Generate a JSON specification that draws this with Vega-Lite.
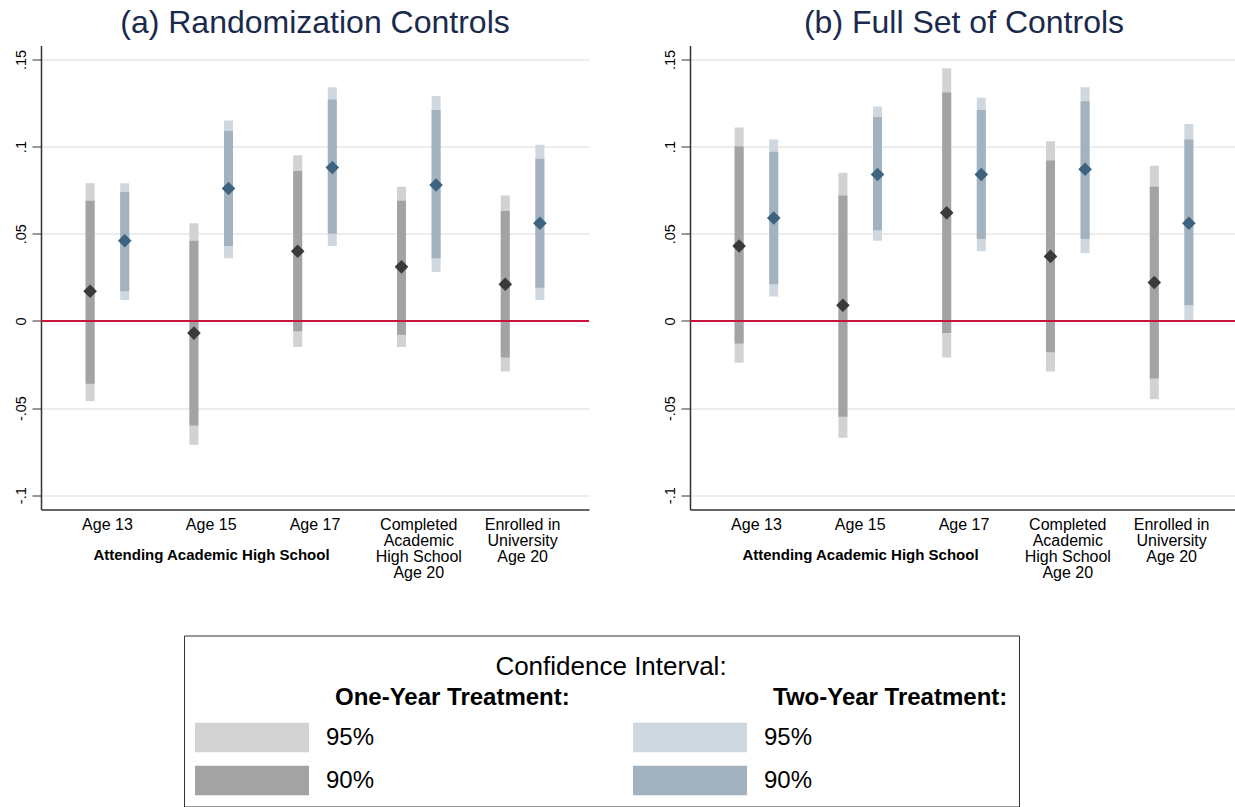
{
  "$schema": "https://vega.github.io/schema/vega-lite/v6.json",
  "background": "white",
  "padding": {"left": 13, "top": 6.5, "right": 0, "bottom": 0},
  "config": {
    "font": "Liberation Sans",
    "view": {"stroke": null},
    "axis": {"labelColor": "black", "titleColor": "black", "domainColor": "#333333", "domainWidth": 1.5, "tickColor": "#333333"}
  },
  "data": {
    "values": [
      {"panel": "(a) Randomization Controls", "outcome": "Age 13", "treat": "One-Year", "band": "One-Year 95%", "lo": -0.046, "hi": 0.079},
      {"panel": "(a) Randomization Controls", "outcome": "Age 13", "treat": "Two-Year", "band": "Two-Year 95%", "lo": 0.012, "hi": 0.079},
      {"panel": "(a) Randomization Controls", "outcome": "Age 15", "treat": "One-Year", "band": "One-Year 95%", "lo": -0.071, "hi": 0.056},
      {"panel": "(a) Randomization Controls", "outcome": "Age 15", "treat": "Two-Year", "band": "Two-Year 95%", "lo": 0.036, "hi": 0.115},
      {"panel": "(a) Randomization Controls", "outcome": "Age 17", "treat": "One-Year", "band": "One-Year 95%", "lo": -0.015, "hi": 0.095},
      {"panel": "(a) Randomization Controls", "outcome": "Age 17", "treat": "Two-Year", "band": "Two-Year 95%", "lo": 0.043, "hi": 0.134},
      {"panel": "(a) Randomization Controls", "outcome": "Completed Academic High School Age 20", "treat": "One-Year", "band": "One-Year 95%", "lo": -0.015, "hi": 0.077},
      {"panel": "(a) Randomization Controls", "outcome": "Completed Academic High School Age 20", "treat": "Two-Year", "band": "Two-Year 95%", "lo": 0.028, "hi": 0.129},
      {"panel": "(a) Randomization Controls", "outcome": "Enrolled in University Age 20", "treat": "One-Year", "band": "One-Year 95%", "lo": -0.029, "hi": 0.072},
      {"panel": "(a) Randomization Controls", "outcome": "Enrolled in University Age 20", "treat": "Two-Year", "band": "Two-Year 95%", "lo": 0.012, "hi": 0.101},
      {"panel": "(b) Full Set of Controls", "outcome": "Age 13", "treat": "One-Year", "band": "One-Year 95%", "lo": -0.024, "hi": 0.111},
      {"panel": "(b) Full Set of Controls", "outcome": "Age 13", "treat": "Two-Year", "band": "Two-Year 95%", "lo": 0.014, "hi": 0.104},
      {"panel": "(b) Full Set of Controls", "outcome": "Age 15", "treat": "One-Year", "band": "One-Year 95%", "lo": -0.067, "hi": 0.085},
      {"panel": "(b) Full Set of Controls", "outcome": "Age 15", "treat": "Two-Year", "band": "Two-Year 95%", "lo": 0.046, "hi": 0.123},
      {"panel": "(b) Full Set of Controls", "outcome": "Age 17", "treat": "One-Year", "band": "One-Year 95%", "lo": -0.021, "hi": 0.145},
      {"panel": "(b) Full Set of Controls", "outcome": "Age 17", "treat": "Two-Year", "band": "Two-Year 95%", "lo": 0.040, "hi": 0.128},
      {"panel": "(b) Full Set of Controls", "outcome": "Completed Academic High School Age 20", "treat": "One-Year", "band": "One-Year 95%", "lo": -0.029, "hi": 0.103},
      {"panel": "(b) Full Set of Controls", "outcome": "Completed Academic High School Age 20", "treat": "Two-Year", "band": "Two-Year 95%", "lo": 0.039, "hi": 0.134},
      {"panel": "(b) Full Set of Controls", "outcome": "Enrolled in University Age 20", "treat": "One-Year", "band": "One-Year 95%", "lo": -0.045, "hi": 0.089},
      {"panel": "(b) Full Set of Controls", "outcome": "Enrolled in University Age 20", "treat": "Two-Year", "band": "Two-Year 95%", "lo": 0.000, "hi": 0.113},
      {"panel": "(a) Randomization Controls", "outcome": "Age 13", "treat": "One-Year", "band": "One-Year 90%", "lo": -0.036, "hi": 0.069},
      {"panel": "(a) Randomization Controls", "outcome": "Age 13", "treat": "Two-Year", "band": "Two-Year 90%", "lo": 0.017, "hi": 0.074},
      {"panel": "(a) Randomization Controls", "outcome": "Age 15", "treat": "One-Year", "band": "One-Year 90%", "lo": -0.060, "hi": 0.046},
      {"panel": "(a) Randomization Controls", "outcome": "Age 15", "treat": "Two-Year", "band": "Two-Year 90%", "lo": 0.043, "hi": 0.109},
      {"panel": "(a) Randomization Controls", "outcome": "Age 17", "treat": "One-Year", "band": "One-Year 90%", "lo": -0.006, "hi": 0.086},
      {"panel": "(a) Randomization Controls", "outcome": "Age 17", "treat": "Two-Year", "band": "Two-Year 90%", "lo": 0.050, "hi": 0.127},
      {"panel": "(a) Randomization Controls", "outcome": "Completed Academic High School Age 20", "treat": "One-Year", "band": "One-Year 90%", "lo": -0.008, "hi": 0.069},
      {"panel": "(a) Randomization Controls", "outcome": "Completed Academic High School Age 20", "treat": "Two-Year", "band": "Two-Year 90%", "lo": 0.036, "hi": 0.121},
      {"panel": "(a) Randomization Controls", "outcome": "Enrolled in University Age 20", "treat": "One-Year", "band": "One-Year 90%", "lo": -0.021, "hi": 0.063},
      {"panel": "(a) Randomization Controls", "outcome": "Enrolled in University Age 20", "treat": "Two-Year", "band": "Two-Year 90%", "lo": 0.019, "hi": 0.093},
      {"panel": "(b) Full Set of Controls", "outcome": "Age 13", "treat": "One-Year", "band": "One-Year 90%", "lo": -0.013, "hi": 0.100},
      {"panel": "(b) Full Set of Controls", "outcome": "Age 13", "treat": "Two-Year", "band": "Two-Year 90%", "lo": 0.021, "hi": 0.097},
      {"panel": "(b) Full Set of Controls", "outcome": "Age 15", "treat": "One-Year", "band": "One-Year 90%", "lo": -0.055, "hi": 0.072},
      {"panel": "(b) Full Set of Controls", "outcome": "Age 15", "treat": "Two-Year", "band": "Two-Year 90%", "lo": 0.052, "hi": 0.117},
      {"panel": "(b) Full Set of Controls", "outcome": "Age 17", "treat": "One-Year", "band": "One-Year 90%", "lo": -0.007, "hi": 0.131},
      {"panel": "(b) Full Set of Controls", "outcome": "Age 17", "treat": "Two-Year", "band": "Two-Year 90%", "lo": 0.047, "hi": 0.121},
      {"panel": "(b) Full Set of Controls", "outcome": "Completed Academic High School Age 20", "treat": "One-Year", "band": "One-Year 90%", "lo": -0.018, "hi": 0.092},
      {"panel": "(b) Full Set of Controls", "outcome": "Completed Academic High School Age 20", "treat": "Two-Year", "band": "Two-Year 90%", "lo": 0.047, "hi": 0.126},
      {"panel": "(b) Full Set of Controls", "outcome": "Enrolled in University Age 20", "treat": "One-Year", "band": "One-Year 90%", "lo": -0.033, "hi": 0.077},
      {"panel": "(b) Full Set of Controls", "outcome": "Enrolled in University Age 20", "treat": "Two-Year", "band": "Two-Year 90%", "lo": 0.009, "hi": 0.104},
      {"panel": "(a) Randomization Controls", "outcome": "Age 13", "treat": "One-Year", "est": 0.017},
      {"panel": "(a) Randomization Controls", "outcome": "Age 13", "treat": "Two-Year", "est": 0.046},
      {"panel": "(a) Randomization Controls", "outcome": "Age 15", "treat": "One-Year", "est": -0.007},
      {"panel": "(a) Randomization Controls", "outcome": "Age 15", "treat": "Two-Year", "est": 0.076},
      {"panel": "(a) Randomization Controls", "outcome": "Age 17", "treat": "One-Year", "est": 0.040},
      {"panel": "(a) Randomization Controls", "outcome": "Age 17", "treat": "Two-Year", "est": 0.088},
      {"panel": "(a) Randomization Controls", "outcome": "Completed Academic High School Age 20", "treat": "One-Year", "est": 0.031},
      {"panel": "(a) Randomization Controls", "outcome": "Completed Academic High School Age 20", "treat": "Two-Year", "est": 0.078},
      {"panel": "(a) Randomization Controls", "outcome": "Enrolled in University Age 20", "treat": "One-Year", "est": 0.021},
      {"panel": "(a) Randomization Controls", "outcome": "Enrolled in University Age 20", "treat": "Two-Year", "est": 0.056},
      {"panel": "(b) Full Set of Controls", "outcome": "Age 13", "treat": "One-Year", "est": 0.043},
      {"panel": "(b) Full Set of Controls", "outcome": "Age 13", "treat": "Two-Year", "est": 0.059},
      {"panel": "(b) Full Set of Controls", "outcome": "Age 15", "treat": "One-Year", "est": 0.009},
      {"panel": "(b) Full Set of Controls", "outcome": "Age 15", "treat": "Two-Year", "est": 0.084},
      {"panel": "(b) Full Set of Controls", "outcome": "Age 17", "treat": "One-Year", "est": 0.062},
      {"panel": "(b) Full Set of Controls", "outcome": "Age 17", "treat": "Two-Year", "est": 0.084},
      {"panel": "(b) Full Set of Controls", "outcome": "Completed Academic High School Age 20", "treat": "One-Year", "est": 0.037},
      {"panel": "(b) Full Set of Controls", "outcome": "Completed Academic High School Age 20", "treat": "Two-Year", "est": 0.087},
      {"panel": "(b) Full Set of Controls", "outcome": "Enrolled in University Age 20", "treat": "One-Year", "est": 0.022},
      {"panel": "(b) Full Set of Controls", "outcome": "Enrolled in University Age 20", "treat": "Two-Year", "est": 0.056}
    ]
  },
  "facet": {
    "column": {
      "field": "panel",
      "type": "nominal",
      "sort": ["(a) Randomization Controls", "(b) Full Set of Controls"],
      "header": {"title": null, "labelFontSize": 32, "labelColor": "#1b2a4c", "labelFont": "Liberation Sans", "labelPadding": 6}
    }
  },
  "spacing": {"column": 72},
  "resolve": {"axis": {"y": "independent"}},
  "spec": {
    "width": 548,
    "height": 464,
    "layer": [
      {
        "transform": [{"filter": "isValid(datum.lo)"}],
        "mark": {"type": "bar", "width": 9},
        "encoding": {
          "x": {
            "field": "outcome",
            "type": "nominal",
            "sort": ["Age 13", "Age 15", "Age 17", "Completed Academic High School Age 20", "Enrolled in University Age 20"],
            "scale": {"paddingInner": 0, "paddingOuter": 0.14},
            "axis": {
              "title": "Attending Academic High School",
              "titleFontWeight": "bold",
              "titleFontSize": 15,
              "titleX": 170,
              "titleY": 45,
              "titleAlign": "center",
              "titleBaseline": "middle",
              "ticks": false,
              "tickSize": 0,
              "labelAngle": 0,
              "labelFontSize": 16,
              "labelLineHeight": 16,
              "labelBaseline": "top",
              "labelPadding": 7,
              "labelLimit": 200,
              "labelExpr": "datum.value == 'Completed Academic High School Age 20' ? ['Completed', 'Academic', 'High School', 'Age 20'] : datum.value == 'Enrolled in University Age 20' ? ['Enrolled in', 'University', 'Age 20'] : datum.label"
            }
          },
          "xOffset": {
            "field": "treat",
            "type": "nominal",
            "sort": ["One-Year", "Two-Year"],
            "scale": {"paddingInner": 0, "paddingOuter": 0.5}
          },
          "y": {
            "field": "lo",
            "type": "quantitative",
            "scale": {"domain": [-0.1082, 0.158], "nice": false, "zero": false},
            "axis": {
              "title": null,
              "values": [-0.1, -0.05, 0, 0.05, 0.1, 0.15],
              "labelExpr": "datum.value == 0 ? '0' : (datum.value < 0 ? '-' : '') + replace(toString(abs(datum.value)), '0.', '.')",
              "grid": true,
              "gridColor": "#ededed",
              "gridWidth": 2,
              "tickSize": 9,
              "labelAngle": -90,
              "labelAlign": "center",
              "labelBaseline": "bottom",
              "labelFontSize": 14.5,
              "labelPadding": 4
            }
          },
          "y2": {"field": "hi"},
          "color": {
            "field": "band",
            "type": "nominal",
            "scale": {
              "domain": ["One-Year Treatment:", "One-Year 95%", "One-Year 90%", "Two-Year Treatment:", "Two-Year 95%", "Two-Year 90%"],
              "range": ["transparent", "#d2d2d2", "#a3a3a3", "transparent", "#cfd8df", "#a2b3bf"]
            },
            "legend": {
              "orient": "none",
              "legendX": 143,
              "legendY": 590,
              "title": "Confidence Interval:",
              "titleFontSize": 26,
              "titleFontWeight": "normal",
              "titleColor": "black",
              "titleAnchor": "middle",
              "titleLimit": 700,
              "titlePadding": 4,
              "columns": 2,
              "columnPadding": 63,
              "rowPadding": 13,
              "symbolType": "M-1,-0.263H1V0.263H-1Z",
              "symbolSize": 12996,
              "symbolStrokeWidth": 0,
              "symbolOpacity": 1,
              "clipHeight": 30,
              "labelFontSize": 24,
              "labelColor": "black",
              "labelOffset": 17,
              "labelLimit": 400,
              "labelExpr": "indexof(datum.value, 'Treatment') >= 0 ? datum.value : slice(datum.value, -3)",
              "padding": 11,
              "strokeColor": "#333333",
              "encode": {
                "title": {"update": {"dx": {"value": 10}, "dy": {"value": 7}}},
                "labels": {
                  "update": {
                    "fontWeight": {"signal": "indexof(datum.value, 'Treatment') >= 0 ? 'bold' : 'normal'"},
                    "dx": {"signal": "indexof(datum.value, 'Treatment') >= 0 ? 9 : 0"},
                    "dy": {"signal": "indexof(datum.value, 'Treatment') >= 0 ? 6 : 0"}
                  }
                }
              }
            }
          }
        }
      },
      {
        "transform": [{"filter": "isValid(datum.est)"}],
        "mark": {"type": "point", "shape": "diamond", "filled": true, "size": 185, "opacity": 1},
        "encoding": {
          "x": {"field": "outcome", "type": "nominal", "sort": ["Age 13", "Age 15", "Age 17", "Completed Academic High School Age 20", "Enrolled in University Age 20"]},
          "xOffset": {"field": "treat", "type": "nominal", "sort": ["One-Year", "Two-Year"]},
          "y": {"field": "est", "type": "quantitative"},
          "fill": {
            "field": "treat",
            "type": "nominal",
            "scale": {"domain": ["One-Year", "Two-Year"], "range": ["#3a3a3a", "#3d6380"]},
            "legend": null
          }
        }
      },
      {
        "transform": [{"aggregate": [{"op": "count", "as": "n"}], "groupby": ["panel"]}],
        "mark": {"type": "rule", "color": "#c8143c", "strokeWidth": 2},
        "encoding": {"y": {"datum": 0}}
      }
    ]
  }
}
